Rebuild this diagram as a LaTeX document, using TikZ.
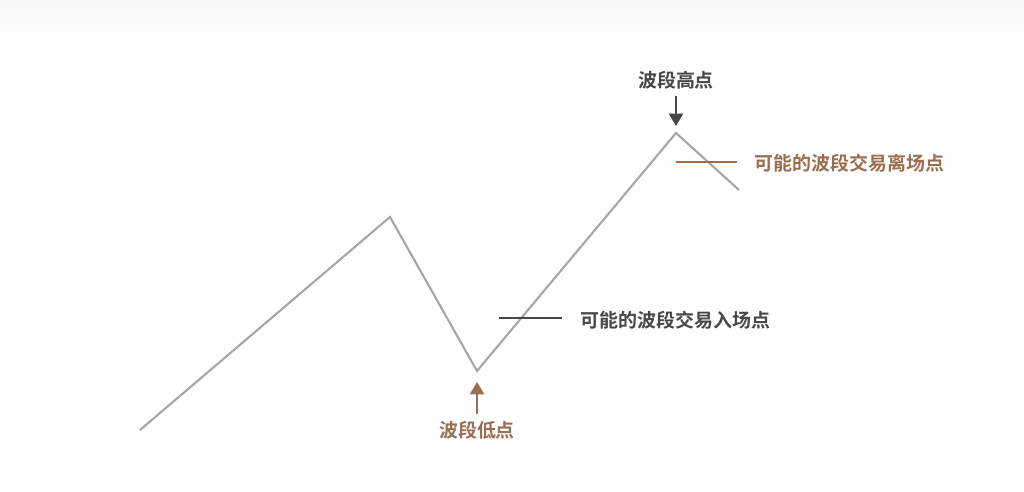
\documentclass[tikz,border=0pt]{standalone}
\usepackage{fontspec}
\newfontfamily\cjk{Noto Sans CJK SC Bold}
\usetikzlibrary{arrows.meta, positioning}
\definecolor{wavegray}{HTML}{A6A6A6}
\definecolor{darkmark}{HTML}{474747}
\definecolor{brownmark}{HTML}{9A6E50}
\begin{document}
\begin{tikzpicture}[
    x=0.02cm, y=-0.02cm,
    >={Triangle[length=7pt,width=8pt]},
    lbl/.style={font=\cjk\fontsize{10.8pt}{12pt}\selectfont, inner sep=0pt},
    wave/.style={wavegray, line width=1.2pt},
    pointer/.style={line width=1.4pt}
]
\useasboundingbox (0,0) rectangle (1024,492);
\shade[top color=gray!6, bottom color=white] (0,0) rectangle (1024,50);

% wave
\coordinate (P0) at (140,430);
\coordinate (P1) at (390,217);
\coordinate (Low) at (477,371);
\coordinate (High) at (676,133);
\coordinate (P4) at (739,190);
\draw[wave, line join=miter] (P0) -- (P1) -- (Low) -- (High) -- (P4);

% high point
\node (HighLbl) at (676,80) [lbl, darkmark] {波段高点};
\draw[->, pointer, darkmark] (676,96) -- (676,126);

% exit
\coordinate (ExitA) at (676,162);
\coordinate (ExitB) at (737,162);
\draw[pointer, brownmark] (ExitA) -- (ExitB);
\node (ExitLbl) at (754,163) [lbl, brownmark, anchor=west] {可能的波段交易离场点};

% entry
\coordinate (EntryA) at (499,318);
\coordinate (EntryB) at (562,318);
\draw[pointer, darkmark] (EntryA) -- (EntryB);
\node (EntryLbl) at (580,320) [lbl, darkmark, anchor=west] {可能的波段交易入场点};

% low point
\node (LowLbl) at (477,430) [lbl, brownmark] {波段低点};
\draw[->, pointer, brownmark] (477,414) -- (477,382);
\end{tikzpicture}
\end{document}
